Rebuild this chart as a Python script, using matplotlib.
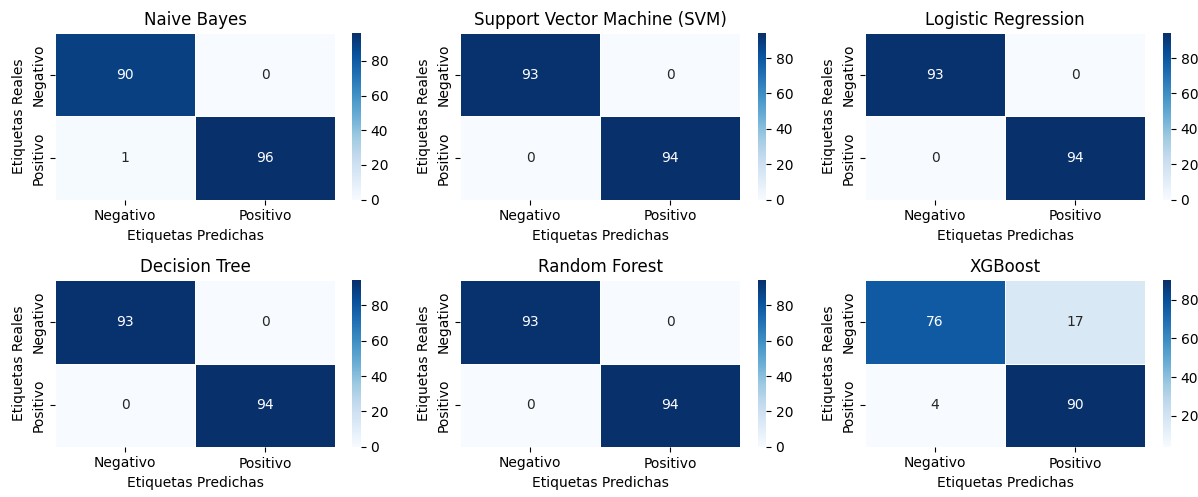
import numpy as np
import matplotlib
matplotlib.use('Agg')
import matplotlib.pyplot as plt
import seaborn as sns

# confusion matrices per model (rows: real, cols: predicted)
models = ['Naive Bayes', 'Support Vector Machine (SVM)', 'Logistic Regression',
          'Decision Tree', 'Random Forest', 'XGBoost']
cm_nb = [[90, 0], [1, 96]]
cm_svm = [[93, 0], [0, 94]]
cm_lr = [[93, 0], [0, 94]]
cm_dt = [[93, 0], [0, 94]]
cm_rf = [[93, 0], [0, 94]]
cm_xgb = [[76, 17], [4, 90]]
labels = ['Negativo', 'Positivo']

matrices = [cm_nb, cm_svm, cm_lr, cm_dt, cm_rf, cm_xgb]

fig, axes = plt.subplots(2, 3, figsize=(11.98, 4.97))
for ax, name, cm in zip(axes.flat, models, matrices):
    sns.heatmap(np.array(cm), annot=True, fmt='d', cmap='Blues',
                xticklabels=labels, yticklabels=labels,
                linewidths=0.5, linecolor='white', ax=ax)
    ax.set_title(name, fontsize=12)
    ax.set_xlabel('Etiquetas Predichas')
    ax.set_ylabel('Etiquetas Reales')

plt.tight_layout(pad=0.5, h_pad=1.1, w_pad=1.2, rect=(0.004, 0.0, 1.02, 0.992))
plt.savefig('out.png', dpi=100)
